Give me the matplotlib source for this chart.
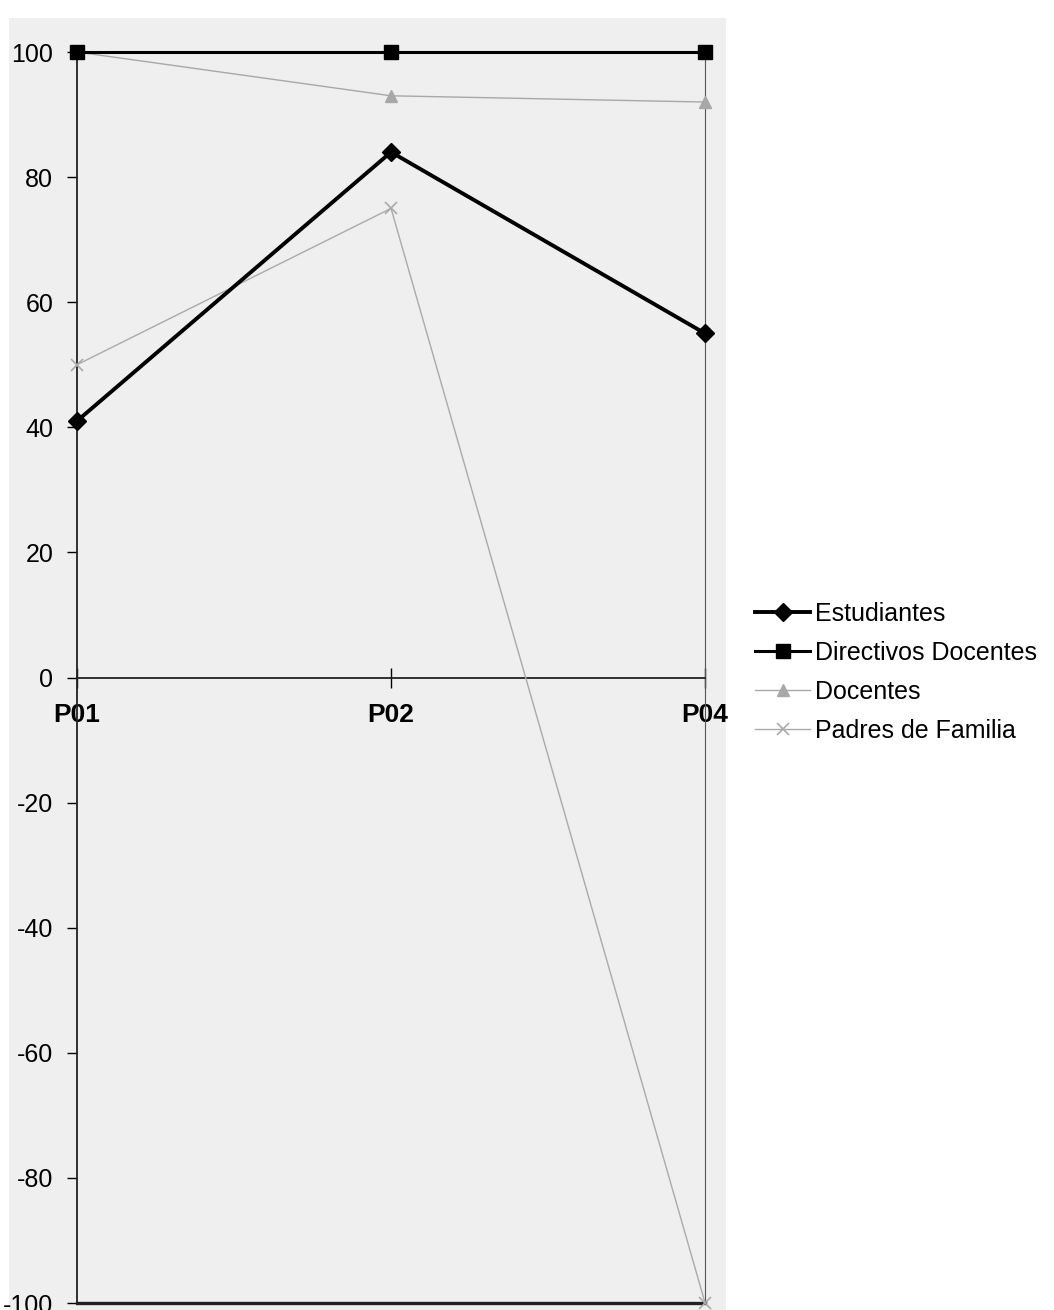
import numpy as np
import matplotlib.pyplot as plt
from matplotlib.patches import Rectangle

plt.rcParams['font.family'] = ['Liberation Sans', 'DejaVu Sans']

categories = ['P01', 'P02', 'P04']
estudiantes = [41, 84, 55]
directivos = [100, 100, 100]
docentes = [100, 93, 92]
padres = [50, 75, -100]
yticks = [-100, -80, -60, -40, -20, 0, 20, 40, 60, 80, 100]

fig = plt.figure(figsize=(10.54, 13.10), dpi=100)
fig.patch.set_facecolor('white')
# scanned page tone behind the plot
fig.add_artist(Rectangle((0.009, 0.0), 0.68, 0.986, transform=fig.transFigure,
                         facecolor='#efefef', edgecolor='none', zorder=-5))

ax = fig.add_axes([0.073, 0.0053, 0.596, 0.955])
ax.set_zorder(1)
ax.set_facecolor('none')

# spine placement first, it resets the ticks
ax.spines['top'].set_visible(False)
ax.spines['bottom'].set_position(('data', 0))
ax.spines['bottom'].set_linewidth(1.3)
ax.spines['bottom'].set_color('#222222')
ax.spines['left'].set_color('#222222')
ax.spines['left'].set_linewidth(1.3)
ax.spines['right'].set_color('#555555')
ax.spines['right'].set_linewidth(0.8)
ax.spines['right'].set_linestyle((0, (3, 1)))

x = np.arange(len(categories))
ax.plot(x, estudiantes, color='black', lw=2.8, marker='D', ms=9, label='Estudiantes',
        zorder=5, clip_on=False)
ax.plot(x, directivos, color='black', lw=2.2, marker='s', ms=10, label='Directivos Docentes',
        zorder=4, clip_on=False)
ax.plot(x, docentes, color='#a8a8a8', lw=1.0, marker='^', ms=8, label='Docentes',
        zorder=3, clip_on=False)
ax.plot(x, padres, color='#aaaaaa', lw=1.0, marker='x', ms=8, mew=1.2, label='Padres de Familia',
        zorder=3, clip_on=False)

ax.set_xlim(0, 2)
ax.set_ylim(-100, 100)
ax.set_yticks(yticks)
ax.set_yticklabels([str(v) for v in yticks])
ax.set_xticks(x)
ax.set_xticklabels(categories, fontweight='bold')
ax.axhline(-100, color='#222222', lw=2.4, clip_on=False, zorder=2)

ax.tick_params(axis='y', direction='out', length=7, width=1, pad=10, labelsize=18)
ax.tick_params(axis='x', direction='inout', length=14, width=1, pad=11, labelsize=19)

ax.legend(loc='center left', bbox_to_anchor=(1.08, 0.504), frameon=False, fontsize=18,
          handlelength=2.2, handletextpad=0.2, labelspacing=0.6, borderaxespad=0,
          borderpad=0)

fig.savefig('out.png', dpi=100)
